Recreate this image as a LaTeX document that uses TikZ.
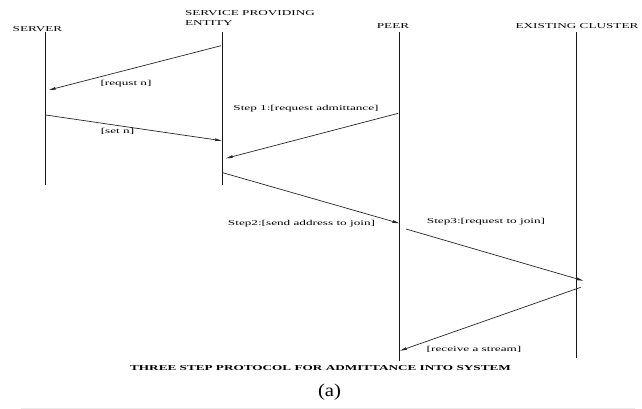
\documentclass[tikz,border=0pt]{standalone}
\usepackage{fontspec}
\usepackage{graphicx}
\setmainfont{Liberation Serif}
\usetikzlibrary{arrows.meta}
\newcommand\lbl[1]{\scalebox{1.76}[1]{\fontsize{7.5}{9}\selectfont #1}}
\newcommand\blbl[1]{\scalebox{1.76}[1]{\fontsize{7.5}{9}\selectfont\bfseries #1}}
\begin{document}
\begin{tikzpicture}[x=1pt,y=-1pt,
  lifeline/.style={line width=1.2pt,black!90},
  msg/.style={line width=0.7pt,black!85,-{Stealth[length=7pt,width=2.8pt,inset=1pt]}},
  txt/.style={inner sep=0pt,outer sep=0pt,text=black}]
\useasboundingbox (0,0) rectangle (642,409);
% lifelines
\coordinate (s1) at (45.7,32); \coordinate (s2) at (45.7,185);
\coordinate (e1) at (222.5,32); \coordinate (e2) at (222.5,185);
\coordinate (p1) at (399.3,32); \coordinate (p2) at (399.3,361);
\coordinate (c1) at (576.3,32); \coordinate (c2) at (576.3,358);
\draw[lifeline] (s1) -- (s2);
\draw[lifeline] (e1) -- (e2);
\draw[lifeline] (p1) -- (p2);
\draw[lifeline] (c1) -- (c2);
% headers
\node[txt] (hs) at (37.5,29) {\lbl{SERVER}};
\node[txt,anchor=west] (he1) at (185,13.5) {\lbl{SERVICE PROVIDING}};
\node[txt,anchor=west] (he2) at (185,23.5) {\lbl{ENTITY}};
\node[txt] (hp) at (393,26) {\lbl{PEER}};
\node[txt] (hc) at (577,26) {\lbl{EXISTING CLUSTER}};
% message end points
\coordinate (a1s) at (221,45.7); \coordinate (a1e) at (49,90);
\coordinate (a2s) at (45.7,115); \coordinate (a2e) at (221.7,140.7);
\coordinate (a3s) at (398.3,113.3); \coordinate (a3e) at (226,158.3);
\coordinate (a4s) at (222.7,172.7); \coordinate (a4e) at (399.3,223.3);
\coordinate (a5s) at (406,229); \coordinate (a5e) at (583.3,280.7);
\coordinate (a6s) at (580.7,287.3); \coordinate (a6e) at (400,350.7);
\draw[msg] (a1s) -- (a1e);
\draw[msg] (a2s) -- (a2e);
\draw[msg] (a3s) -- (a3e);
\draw[msg] (a4s) -- (a4e);
\draw[msg] (a5s) -- (a5e);
\draw[msg] (a6s) -- (a6e);
% labels
\node[txt] (l1) at (126,84) {\lbl{[requst n]}};
\node[txt] (l2) at (117.5,131.5) {\lbl{[set n]}};
\node[txt] (l3) at (306,109) {\lbl{Step 1:[request admittance]}};
\node[txt] (l4) at (301.5,224) {\lbl{Step2:[send address to join]}};
\node[txt] (l5) at (486,221.5) {\lbl{Step3:[request to join]}};
\node[txt] (l6) at (474,349) {\lbl{[receive a stream]}};
% caption
\node[txt] (cap) at (320.5,368) {\blbl{THREE STEP PROTOCOL FOR ADMITTANCE INTO SYSTEM}};
\node[txt] (sub) at (329.5,392) {\scalebox{1.15}[1]{\fontsize{18}{21}\selectfont (a)}};
\coordinate (g1) at (21,408); \coordinate (g2) at (635,408);
\draw[black!8,line width=0.8pt] (g1) -- (g2);
\end{tikzpicture}
\end{document}
